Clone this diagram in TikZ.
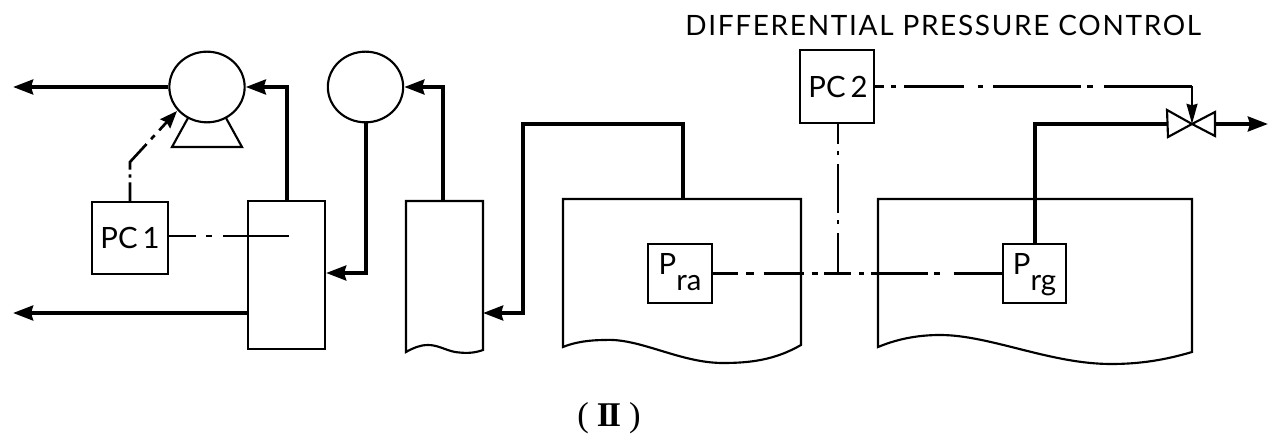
\documentclass[tikz,border=0pt]{standalone}
\usepackage{fontspec}
\setmainfont{Lato}
\newfontfamily\titlefont[LetterSpace=6]{Lato}
\newfontfamily\numfont{Liberation Serif}
\usetikzlibrary{arrows.meta,shapes.geometric}
\tikzset{
    thinline/.style={line width=1.6pt},
    pipe/.style={line width=3pt},
    flow/.style={pipe, -{Stealth[length=15pt, width=11pt, inset=1.5pt]}},
    signal/.style={line width=2pt},
    ctrlbox/.style={draw, thinline, fill=white, inner sep=0pt, font=\fontsize{22}{22}\selectfont},
    pump/.style={draw, thinline, ellipse, fill=white, inner sep=0pt, minimum width=56.5pt, minimum height=53pt},
}
\newcommand{\subtext}[1]{\raisebox{-12pt}[0pt][15pt]{#1}}
\begin{document}
\begin{tikzpicture}[x=0.75pt, y=-0.75pt]
    \useasboundingbox (0,0) rectangle (1280,441);
    % vessels
    \draw[thinline] (563,347) -- (563,199) -- (801,199) -- (801,345)
        .. controls (775,360) and (750,363) .. (723,363)
        .. controls (680,363) and (640,338) .. (605,340)
        .. controls (590,340) and (575,342) .. (563,347) -- cycle;
    \draw[thinline] (878,347) -- (878,199) -- (1192,199) -- (1192,352)
        .. controls (1165,360) and (1140,364) .. (1111,364)
        .. controls (1050,364) and (990,335) .. (940,335)
        .. controls (915,335) and (895,340) .. (878,347) -- cycle;
    \coordinate (tanka) at (683,199);
    \coordinate (tankg) at (1035,199);
    % columns
    \node[ctrlbox, minimum width=57.75pt, minimum height=111pt] (drum) at (286.5,275) {};
    \draw[thinline] (406,352) -- (406,201) -- (483,201) -- (483,350)
        .. controls (472,354) and (463,353) .. (455,352)
        .. controls (445,350) and (438,345) .. (428,345)
        .. controls (420,345) and (413,348) .. (406,352) -- cycle;
    \coordinate (column) at (483,313);
    \coordinate (columntop) at (443,201);
    % pumps
    \node[pump] (pumpa) at (207,87) {};
    \node[pump] (pumpb) at (365.5,87) {};
    \draw[thinline] (188,118) -- (172,147) -- (242,147) -- (226,118);
    % controllers
    \node[ctrlbox, minimum width=57pt, minimum height=54pt] (pca) at (130,238) {PC\,1};
    \node[ctrlbox, minimum width=55.5pt, minimum height=54.75pt] (pcb) at (837,86.5) {\hspace{1.5pt}PC\,2};
    \node[ctrlbox, minimum width=48pt, minimum height=44.25pt] (pra) at (680,273.5) {P\subtext{ra}};
    \node[ctrlbox, minimum width=47.25pt, minimum height=44.25pt] (prg) at (1034.5,273.5) {P\subtext{rg}};
    % valve
    \coordinate (valve) at (1192,124);
    \draw[thinline, fill=white] (valve) -- (1167,110) -- (1168,137) -- cycle;
    \draw[thinline, fill=white] (valve) -- (1215,112) -- (1215,136) -- cycle;
    % free ends
    \coordinate (outa) at (13,87);
    \coordinate (outb) at (13,313);
    \coordinate (outc) at (1268,124);
    \coordinate (tee) at (838,274);
    \coordinate (bend) at (130,162);
    \coordinate (pumpaside) at (177,111);
    \coordinate (drumend) at (289,236);
    \coordinate (valvetop) at (1192,86.5);
    % process lines
    \draw[flow] (pumpa.west) -- (outa);
    \draw[flow] (drum.north -| 287,0) -- (287,87) -- (pumpa.east);
    \draw[flow] (pumpb.south) -- (365.5,273) -- (drum.east |- 0,273);
    \draw[flow] (drum.west |- outb) -- (outb);
    \draw[flow] (columntop) -- (443,87) -- (pumpb.east);
    \draw[flow] (tanka) -- (683,124) -- (523,124) -- (523,313) -- (column);
    \draw[pipe] (prg.north -| tankg) -- (tankg) -- (1035,124) -- (1167,124);
    \draw[flow] (1215,124) -- (outc);
    % signal lines
    \draw[signal, dash pattern=on 20pt off 8pt on 4.5pt off 8pt on 50pt] (pca.east |- drumend) -- (drumend);
    \draw[signal, dash pattern=on 14pt off 3.5pt on 2.5pt off 3.5pt on 24pt off 5pt on 4pt off 5pt on 30pt,
        -{Stealth[length=13pt, width=10pt, inset=1.5pt]}] (pca.north) -- (bend) -- (pumpaside);
    \draw[signal, dash pattern=on 6.75pt off 5.25pt on 3.75pt off 6pt on 45pt off 10.5pt on 3.75pt off 7.5pt on 66pt off 4.5pt on 4.5pt off 8.25pt on 66pt]
        (pcb.east) -- (valvetop);
    \draw[signal, -{Stealth[length=15pt, width=8pt, inset=1pt]}] (valvetop) -- (valve);
    \draw[thinline, dash pattern=on 15pt off 5pt on 3pt off 7pt on 37pt off 5pt on 3pt off 7pt on 31pt] (pcb.south -| tee) -- (tee);
    \draw[signal, dash pattern=on 19pt off 6pt on 6pt off 7pt on 30pt off 6pt on 5pt off 4.5pt on 20pt off 6pt on 4pt off 5pt on 43pt off 4.5pt on 4pt off 10.5pt on 38pt]
        (pra.east) -- (prg.west);
    % labels
    \node[font=\titlefont\fontsize{21}{21}\selectfont, anchor=west, inner sep=0pt] (title) at (685,25) {DIFFERENTIAL PRESSURE CONTROL};
    \node[font=\numfont\fontsize{26}{26}\selectfont, inner sep=0pt] (caption) at (609,418)
        {(\hspace{6pt}\textbf{I\kern-2pt I}\hspace{6pt})};
\end{tikzpicture}
\end{document}
